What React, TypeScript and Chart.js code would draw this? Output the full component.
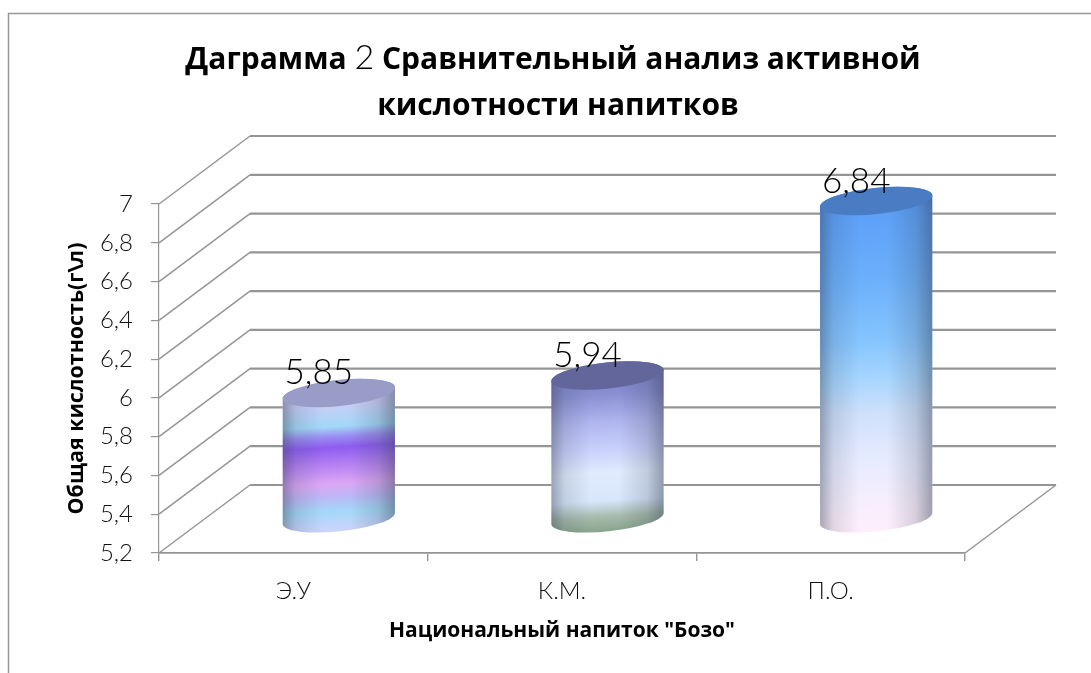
import React, { useEffect, useRef } from "react";
import { Chart, registerables } from "chart.js";

Chart.register(...registerables);

const categories = ["Э.У", "К.М.", "П.О."];
const acidity = [5.85, 5.94, 6.84];
const yTicks = [5.2, 5.4, 5.6, 5.8, 6, 6.2, 6.4, 6.6, 6.8, 7];
const titleLine1 = [
  { text: "Даграмма ", bold: true },
  { text: "2", bold: false },
  { text: " Сравнительный анализ активной", bold: true },
];
const titleLine2 = "кислотности напитков";
const xTitle = 'Национальный напиток "Бозо"';
const yTitle = "Общая кислотность(г\\л)";

const FONT = "Lato, 'Open Sans', sans-serif";
const BOLD_FONT = "'Open Sans', Lato, sans-serif";
const GRAY = "#959595";
const DEPTH_X = 91;
const DEPTH_Y = 68;

const sideStops: [number, string][][] = [
  [[0, "#c8cdf5"], [0.08, "#c8cdf5"], [0.24, "#a3d8f8"], [0.31, "#9a90f2"], [0.39, "#8e5cf0"], [0.5, "#b07cf2"], [0.65, "#dca6f5"], [0.75, "#bcb8f6"], [0.85, "#a3d8f8"], [1, "#cfd3fb"]],
  [[0, "#7e82c8"], [0.12, "#8a8fd2"], [0.3, "#b0b6ee"], [0.47, "#c8d0fb"], [0.62, "#e0ebfd"], [0.8, "#d8e6fb"], [0.9, "#a8bcae"], [1, "#88a48c"]],
  [[0, "#5596f0"], [0.04, "#5da0f8"], [0.24, "#6cb0fb"], [0.42, "#85c4fe"], [0.54, "#a8d6fe"], [0.64, "#cfe0fb"], [0.78, "#e6ebff"], [0.91, "#f6eefc"], [1, "#ffeefb"]],
];
const capColors = ["#9a9cc8", "#62669a", "#4a7cc4"];

const formatComma = (v: number) => String(v).replace(".", ",");

const scenePlugin = {
  id: "scene",
  beforeDatasetsDraw(chart: any) {
    const { ctx, chartArea, scales } = chart;
    const y = scales.y;
    ctx.save();
    // frame
    ctx.strokeStyle = "#999";
    ctx.lineWidth = 1.5;
    ctx.beginPath();
    ctx.moveTo(8.5, chart.height);
    ctx.lineTo(8.5, 13.5);
    ctx.lineTo(chart.width, 13.5);
    ctx.stroke();
    // wall + floor
    ctx.strokeStyle = GRAY;
    y.ticks.forEach((t: any) => {
      const py = y.getPixelForValue(t.value);
      ctx.lineWidth = 1.5;
      ctx.beginPath();
      ctx.moveTo(chartArea.left, py);
      ctx.lineTo(chartArea.left + DEPTH_X, py - DEPTH_Y);
      ctx.stroke();
      ctx.lineWidth = 2.2;
      ctx.beginPath();
      ctx.moveTo(chartArea.left + DEPTH_X, py - DEPTH_Y);
      ctx.lineTo(chartArea.right + DEPTH_X, py - DEPTH_Y);
      ctx.stroke();
    });
    ctx.lineWidth = 1.5;
    ctx.beginPath();
    ctx.moveTo(chartArea.right, chartArea.bottom);
    ctx.lineTo(chartArea.right + DEPTH_X, chartArea.bottom - DEPTH_Y);
    ctx.stroke();
    ctx.restore();
  },
  afterDatasetsDraw(chart: any) {
    const { ctx } = chart;
    const bars = chart.getDatasetMeta(0).data;
    bars.forEach((bar: any, i: number) => {
      const a = bar.width / 2;
      const b = 13;
      const rot = (-6 * Math.PI) / 180;
      const bandRot = (-3.5 * Math.PI) / 180;
      const cx = bar.x + DEPTH_X / 2;
      const top = bar.y - DEPTH_Y / 2;
      const bottom = bar.base - DEPTH_Y / 2;
      const rx = a * Math.cos(rot);
      const ry = a * Math.sin(rot);

      ctx.save();
      ctx.beginPath();
      ctx.ellipse(cx, bottom, a, b, rot, Math.PI, 0, true);
      ctx.lineTo(cx + rx, top + ry);
      ctx.ellipse(cx, top, a, b, rot, 0, Math.PI, true);
      ctx.closePath();
      ctx.clip();
      const L = bottom + b - top;
      const v = ctx.createLinearGradient(cx, top, cx - L * Math.sin(bandRot), top + L * Math.cos(bandRot));
      sideStops[i].forEach(([o, c]) => v.addColorStop(o, c));
      ctx.fillStyle = v;
      ctx.fillRect(cx - a - 2, top - 20, 2 * a + 4, bottom - top + 50);
      const h = ctx.createLinearGradient(cx - a, 0, cx + a, 0);
      h.addColorStop(0, "rgba(50,60,80,0.42)");
      h.addColorStop(0.12, "rgba(50,60,80,0.14)");
      h.addColorStop(0.35, "rgba(50,60,80,0)");
      h.addColorStop(0.6, "rgba(50,60,80,0)");
      h.addColorStop(0.85, "rgba(50,60,80,0.18)");
      h.addColorStop(1, "rgba(50,60,80,0.46)");
      ctx.fillStyle = h;
      ctx.fillRect(cx - a - 2, top - 20, 2 * a + 4, bottom - top + 50);
      ctx.restore();

      ctx.save();
      ctx.fillStyle = capColors[i];
      ctx.beginPath();
      ctx.ellipse(cx, top, a, b, rot, 0, Math.PI * 2);
      ctx.fill();
      ctx.restore();

      ctx.save();
      ctx.fillStyle = "#000";
      ctx.font = `300 35px ${FONT}`;
      ctx.textAlign = "center";
      ctx.textBaseline = "alphabetic";
      ctx.fillText(formatComma(acidity[i]), cx - 20, top - 8.5);
      ctx.restore();
    });
  },
  afterDraw(chart: any) {
    const { ctx } = chart;
    ctx.save();
    ctx.fillStyle = "#000";
    ctx.textBaseline = "alphabetic";
    ctx.textAlign = "left";
    const fontOf = (bold: boolean) => (bold ? `700 30px ${BOLD_FONT}` : `300 34px ${FONT}`);
    let total = 0;
    titleLine1.forEach((s) => {
      ctx.font = fontOf(s.bold);
      total += ctx.measureText(s.text).width;
    });
    let x = 553 - total / 2;
    titleLine1.forEach((s) => {
      ctx.font = fontOf(s.bold);
      ctx.fillText(s.text, x, 69);
      x += ctx.measureText(s.text).width;
    });
    ctx.font = fontOf(true);
    ctx.textAlign = "center";
    ctx.fillText(titleLine2, 558, 115);
    ctx.restore();
  },
};

export default function App() {
  const ref = useRef<HTMLCanvasElement>(null);
  useEffect(() => {
    const chart = new Chart(ref.current!, {
      type: "bar",
      data: {
        labels: categories,
        datasets: [
          {
            data: acidity,
            base: yTicks[0],
            backgroundColor: "rgba(0,0,0,0)",
            borderWidth: 0,
            categoryPercentage: 1,
            barPercentage: 0.42,
          },
        ],
      },
      plugins: [scenePlugin],
      options: {
        animation: false,
        responsive: false,
        layout: { padding: { left: 60, top: 204, right: 126, bottom: 28 } },
        plugins: { legend: { display: false }, tooltip: { enabled: false }, title: { display: false } },
        scales: {
          x: {
            type: "category",
            offset: true,
            grid: {
              offset: true,
              drawOnChartArea: false,
              color: GRAY,
              lineWidth: 1.4,
              tickLength: 8,
            },
            border: { color: GRAY, width: 1.8 },
            ticks: { color: "#111", font: { family: FONT, size: 24, weight: "300" }, padding: 16, maxRotation: 0 },
            title: { display: true, text: xTitle, color: "#000", font: { family: BOLD_FONT, size: 21, weight: "700" }, padding: { top: 14, bottom: 1 } },
            afterFit: (s: any) => { s.height = 92; },
          },
          y: {
            type: "linear",
            min: 5.2,
            max: 7,
            afterBuildTicks: (s: any) => { s.ticks = yTicks.map((value) => ({ value })); },
            grid: { drawOnChartArea: false, color: GRAY, lineWidth: 1.2, tickLength: 8 },
            border: { color: GRAY, width: 1.2 },
            ticks: {
              color: "#111",
              font: { family: FONT, size: 24, weight: "300" },
              padding: 18,
              callback: (v: any) => formatComma(Number(v)),
            },
            title: { display: true, text: yTitle, color: "#000", font: { family: BOLD_FONT, size: 21.4, weight: "700" }, padding: { top: 4, bottom: 0 } },
            afterFit: (s: any) => { s.width = 99; },
          },
        },
      },
    } as any);
    return () => chart.destroy();
  }, []);
  return (
    <div style={{ position: "fixed", left: 0, top: 0, width: 1091, height: 673, background: "#fff" }}>
      <canvas ref={ref} width={1091} height={673} style={{ display: "block", width: 1091, height: 673 }} />
    </div>
  );
}
